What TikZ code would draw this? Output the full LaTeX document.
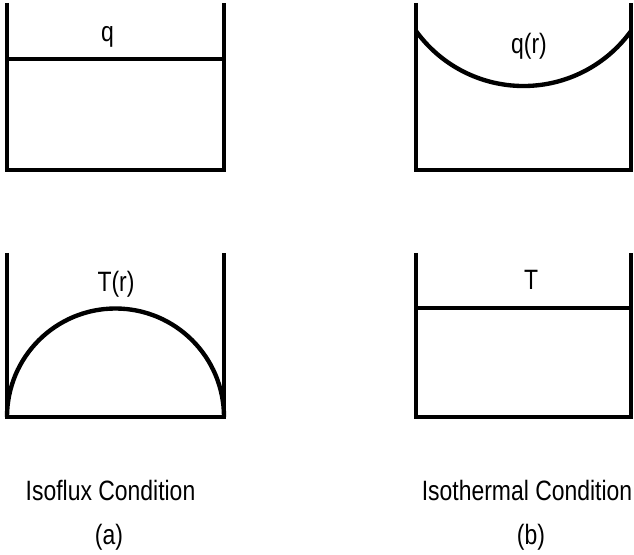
\documentclass[tikz,border=0pt]{standalone}
\usepackage{fontspec}
\setmainfont{Liberation Sans}[FakeStretch=0.82]
\begin{document}
\begin{tikzpicture}[font=\fontsize{19.9}{24}\selectfont,x=1cm,y=1cm]
    \tikzset{
        wall/.style={line width=3.1pt},
        profile/.style={line width=3.1pt},
        lbl/.style={anchor=base,inner sep=0pt}
    }
    \useasboundingbox (0,0) rectangle (15.85,13.85);

    % vessels: x left / x right / y top / y bottom
    \foreach \xl/\xr/\yt/\yb in {
        0.175/5.6/13.78/9.6,
        10.4/15.775/13.78/9.6,
        0.175/5.6/7.525/3.425,
        10.4/15.775/7.525/3.425}{
        \draw[wall] (\xl,\yt) -- (\xl,\yb) -- (\xr,\yb) -- (\xr,\yt);
    }

    % (a) flux flat, temperature dome
    \draw[profile] (0.175,12.375) -- (5.6,12.375);
    \draw[profile] (0.175,3.425) arc[start angle=180,end angle=0,radius=2.7125];
    % (b) flux bowl, temperature flat
    \draw[profile] (10.4,13.075) arc[start angle=215.8,end angle=324.2,radius=3.314];
    \draw[profile] (10.4,6.15) -- (15.775,6.15);

    \node[lbl] (fluxa) at (2.69,12.8) {q};
    \node[lbl] (fluxb) at (13.225,12.5) {q(r)};
    \node[lbl] (tempa) at (2.9,6.575) {T(r)};
    \node[lbl] (tempb) at (13.275,6.6) {T};

    \node[lbl] (capa) at (2.7625,1.35) {Isoflux Condition};
    \node[lbl] (taga) at (2.725,0.23) {(a)};
    \node[lbl] (capb) at (13.175,1.35) {Isothermal Condition};
    \node[lbl] (tagb) at (13.275,0.23) {(b)};
\end{tikzpicture}
\end{document}
